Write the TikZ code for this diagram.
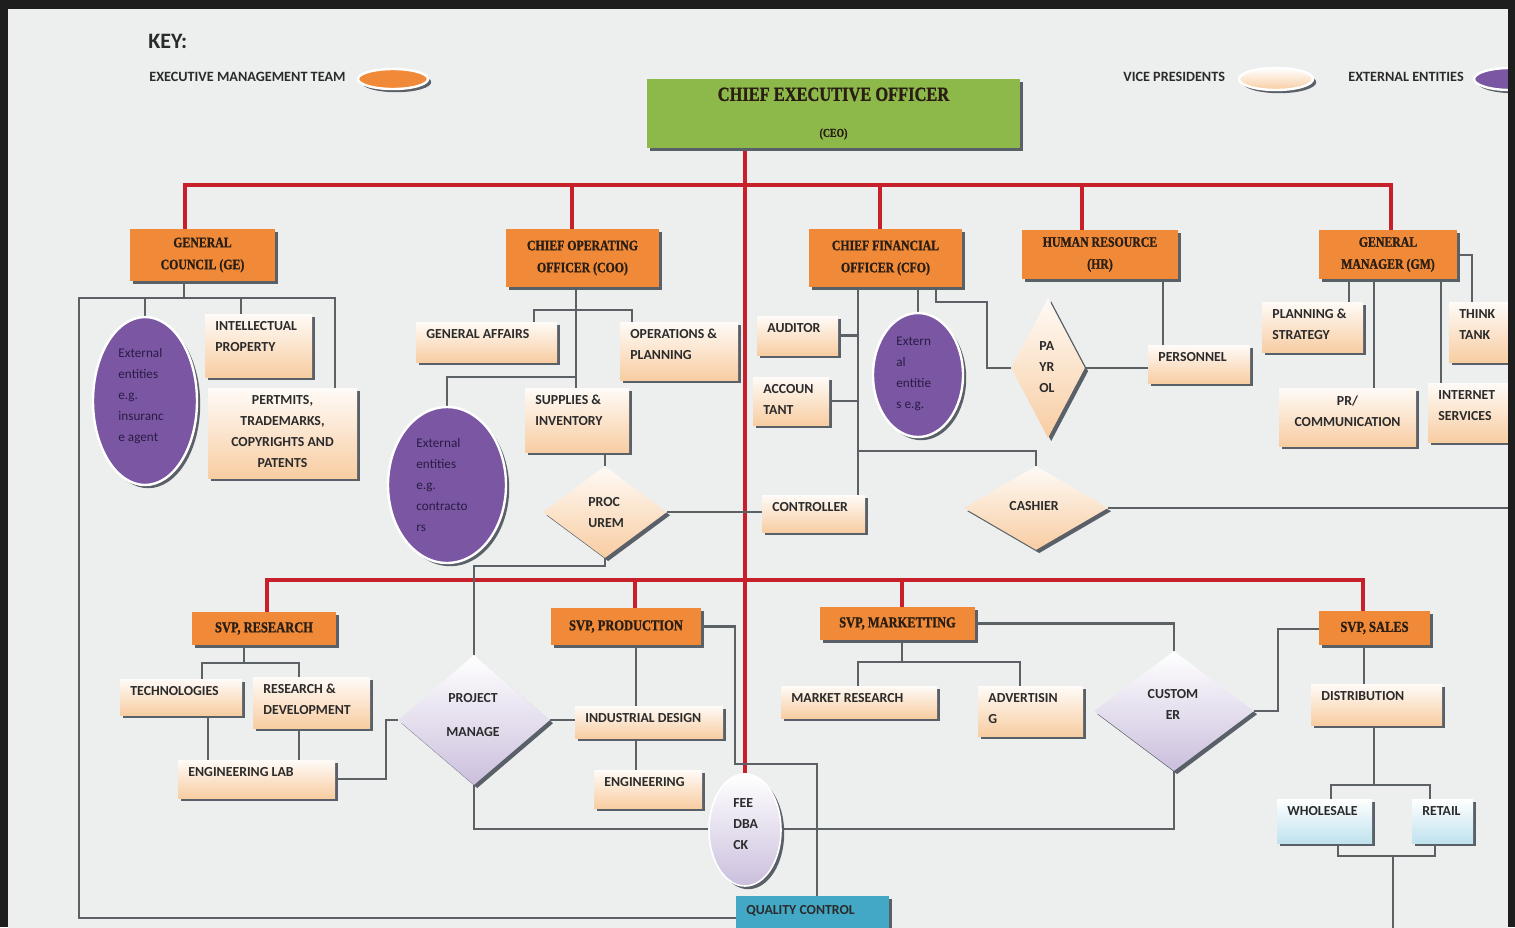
\documentclass[tikz,border=0pt]{standalone}
\usepackage{fontspec}
\setmainfont{Carlito}
\newfontfamily\hdf{Liberation Serif}[UprightFont={* Bold}, FakeStretch=0.82, FakeBold=1.2]
\usetikzlibrary{shapes.geometric,shadows,calc}
\definecolor{panelc}{HTML}{EDEFEF}
\definecolor{framec}{HTML}{1E1E1E}
\definecolor{orangec}{HTML}{F08A38}
\definecolor{greenc}{HTML}{8DB84A}
\definecolor{redc}{HTML}{C8202A}
\definecolor{linec}{HTML}{5C6166}
\definecolor{shc}{HTML}{5A6068}
\definecolor{peachc}{HTML}{F8CDA2}
\definecolor{lavc}{HTML}{CBBFDD}
\definecolor{purplec}{HTML}{7A56A3}
\definecolor{bluec}{HTML}{BFE2EE}
\definecolor{qcc}{HTML}{43A8C6}
\definecolor{txtd}{HTML}{2B2B2B}
\definecolor{hdtxt}{HTML}{2A1E14}
\definecolor{ptxtc}{HTML}{2A1C45}
\pgfdeclarelayer{panel}
\pgfdeclarelayer{wires}
\pgfsetlayers{panel,wires,main}
\newcommand\bx[7]{\node[#2, minimum width={(#5-#3)*0.5pt}, minimum height={(#6-#4)*0.5pt}] (#1) at ({(#3+#5)/2},{(#4+#6)/2}) {#7};}
\newcommand\lbl[7]{\bx{#1}{#2}{#3}{#4}{#5}{#6}{}\node[lbt, anchor=north west, align=left] (#1t) at ({#3+10},{#4+7}) {#7};}
\newcommand\lbc[7]{\bx{#1}{#2}{#3}{#4}{#5}{#6}{}\node[lbt, anchor=north, align=center] (#1t) at ({(#3+#5)/2},{#4+7}) {#7};}
\newcommand\shp[6]{\node[#2, minimum width={#5*0.5pt}, minimum height={#6*0.5pt}] (#1) at (#3,#4) {};}
\tikzset{
 ln/.style={draw=linec, line width=1.2pt},
 redl/.style={draw=redc, line width=1.8pt},
 shad/.style={drop shadow={shadow xshift=1.6pt,shadow yshift=-1.6pt,fill=shc,opacity=1}},
 ob/.style={rectangle, fill=orangec, inner sep=0pt, text=hdtxt, align=center, shad,
   font=\hdf\fontsize{7.2}{11}\selectfont},
 ob2/.style={ob, font=\hdf\fontsize{7.6}{9}\selectfont},
 lb/.style={rectangle, inner sep=0pt, top color=white!92!peachc, bottom color=peachc, shad},
 bb/.style={rectangle, inner sep=0pt, top color=white, bottom color=bluec, shad},
 lbt/.style={inner sep=0pt, text=txtd, font=\bfseries\fontsize{6.9}{10.5}\selectfont},
 pel/.style={ellipse, inner sep=0pt, fill=purplec, draw=white, line width=1.2pt, shad},
 ptxt/.style={inner sep=0pt, text=ptxtc, align=left, font=\fontsize{6.6}{10.5}\selectfont},
 pdm/.style={diamond, inner sep=0pt, top color=white!90!peachc, bottom color=peachc, shad},
 ldm/.style={diamond, inner sep=0pt, top color=white, bottom color=lavc, shad},
 keyt/.style={inner sep=0pt, text=txtd, font=\bfseries\fontsize{7.1}{8}\selectfont},
}
\begin{document}
\begin{tikzpicture}[x=0.5pt,y=-0.5pt]
\useasboundingbox (0,0) rectangle (1515,927);
\begin{pgfonlayer}{panel}
 \fill[framec] (0,0) rectangle (1515,927);
 \fill[panelc] (8,9) rectangle (1508,940);
\end{pgfonlayer}

% ---------- key ----------
\node[inner sep=0pt, text=txtd, font=\bfseries\fontsize{11}{12}\selectfont, anchor=west] (key) at (148,41) {KEY:};
\node[keyt, anchor=west] (kemt) at (149,77) {EXECUTIVE MANAGEMENT TEAM};
\shp{kemtE}{pel, fill=orangec}{393}{79}{70}{20}
\node[keyt, anchor=west] (kvp) at (1123,77) {VICE PRESIDENTS};
\shp{kvpE}{pel, fill=none, top color=white, bottom color=peachc}{1276}{79}{74}{22}
\node[keyt, anchor=west] (kext) at (1348,77) {EXTERNAL ENTITIES};
\shp{kextE}{pel}{1510}{79}{72}{22}

% ---------- executives ----------
\bx{ceo}{ob, fill=greenc, font=\hdf\fontsize{10}{12}\selectfont}{647}{79}{1020}{148}{CHIEF EXECUTIVE OFFICER\\[6pt]{\fontsize{6}{7}\selectfont (CEO)}}
\bx{gc}{ob}{130}{229}{275}{281}{GENERAL\\COUNCIL (GE)}
\bx{coo}{ob}{506}{229}{659}{287}{CHIEF OPERATING\\OFFICER (COO)}
\bx{cfo}{ob}{809}{229}{962}{287}{CHIEF FINANCIAL\\OFFICER (CFO)}
\bx{hr}{ob}{1022}{230}{1178}{279}{HUMAN RESOURCE\\(HR)}
\bx{gm}{ob}{1319}{230}{1457}{279}{GENERAL\\MANAGER (GM)}

\bx{svpr}{ob2}{192}{612}{336}{645}{SVP, RESEARCH}
\bx{svpp}{ob2}{551}{608}{701}{645}{SVP, PRODUCTION}
\bx{svpm}{ob2}{820}{607}{975}{640}{SVP, MARKETTING}
\bx{svps}{ob2}{1319}{611}{1430}{645}{SVP, SALES}

% ---------- light boxes ----------
\lbl{ip}{lb}{205}{314}{312}{377}{INTELLECTUAL\\PROPERTY}
\lbc{pat}{lb}{208}{388}{357}{478}{PERTMITS,\\TRADEMARKS,\\COPYRIGHTS AND\\PATENTS}
\lbl{ga}{lb}{416}{322}{557}{362}{GENERAL AFFAIRS}
\lbl{op}{lb}{620}{322}{738}{380}{OPERATIONS \&\\PLANNING}
\lbl{sup}{lb}{525}{388}{629}{452}{SUPPLIES \&\\INVENTORY}
\lbl{aud}{lb}{757}{316}{838}{355}{AUDITOR}
\lbl{acc}{lb}{753}{377}{829}{425}{ACCOUN\\TANT}
\lbl{ctrl}{lb}{762}{495}{865}{532}{CONTROLLER}
\lbl{pers}{lb}{1148}{345}{1250}{383}{PERSONNEL}
\lbl{ps}{lb}{1262}{302}{1363}{352}{PLANNING \&\\STRATEGY}
\lbc{pr}{lb}{1279}{388}{1416}{446}{PR/\\COMMUNICATION}
\lbl{tt}{lb}{1449}{302}{1525}{362}{THINK\\TANK}
\lbl{inet}{lb}{1428}{383}{1525}{442}{INTERNET\\SERVICES}
\lbl{tech}{lb}{120}{679}{242}{715}{TECHNOLOGIES}
\lbl{rd}{lb}{253}{677}{370}{728}{RESEARCH \&\\DEVELOPMENT}
\lbl{el}{lb}{178}{760}{335}{798}{ENGINEERING LAB}
\lbl{id}{lb}{575}{706}{723}{738}{INDUSTRIAL DESIGN}
\lbl{eng}{lb}{594}{770}{702}{808}{ENGINEERING}
\lbl{mr}{lb}{781}{686}{937}{718}{MARKET RESEARCH}
\lbl{adv}{lb}{978}{686}{1083}{736}{ADVERTISIN\\G}
\lbl{dist}{lb}{1311}{684}{1442}{725}{DISTRIBUTION}
\lbl{ws}{bb}{1277}{799}{1372}{843}{WHOLESALE}
\lbl{rt}{bb}{1412}{799}{1473}{843}{RETAIL}
\bx{qc}{rectangle, inner sep=0pt, fill=qcc, shad}{736}{896}{889}{940}{}
\node[lbt, anchor=north west] (qct) at (746,905) {QUALITY CONTROL};

% ---------- external entities ----------
\shp{ext1}{pel}{145}{401}{104}{168}
\node[ptxt, anchor=west] (ext1t) at (118,396) {External\\entities\\e.g.\\insuranc\\e agent};
\shp{ext2}{pel}{447}{485}{118}{156}
\node[ptxt, anchor=west] (ext2t) at (416,485) {External\\entities\\e.g.\\contracto\\rs};
\shp{ext3}{pel}{918}{375}{90}{124}
\node[ptxt, anchor=west] (ext3t) at (896,374) {Extern\\al\\entitie\\s e.g.};

% ---------- diamonds and feedback ----------
\shp{proc}{pdm}{605}{512}{124}{92}
\node[lbt, anchor=west, align=left] (proct) at (588,513) {PROC\\UREM};
\shp{pay}{pdm}{1048}{368}{74}{140}
\node[lbt, anchor=west, align=left] (payt) at (1039,367) {PA\\YR\\OL};
\shp{cash}{pdm}{1036}{508}{144}{84}
\node[lbt] (casht) at (1034,506) {CASHIER};
\shp{pm}{ldm}{474}{720}{152}{130}
\node[lbt, align=center] (pmt) at (473,715) {PROJECT\\[6.5pt]MANAGE};
\shp{cust}{ldm}{1174}{711}{160}{120}
\node[lbt, align=center] (custt) at (1173,704) {CUSTOM\\ER};
\shp{fb}{ellipse, inner sep=0pt, top color=white, bottom color=lavc, draw=white, line width=0.8pt, shad}{745}{830}{72}{112}
\node[lbt, anchor=west, align=left] (fbt) at (733,824) {FEE\\DBA\\CK};

% ---------- connectors ----------
\begin{pgfonlayer}{wires}
 % red hierarchy
 \coordinate (r1L) at (185,185); \coordinate (r1R) at (1391,185);
 \coordinate (r1coo) at (572,185); \coordinate (r1cfo) at (880,185); \coordinate (r1hr) at (1082,185);
 \draw[redl] (gc.north -| r1L) -- (r1L) -- (r1R) -- (gm.north -| r1R);
 \draw[redl] (coo.north -| r1coo) -- (r1coo);
 \draw[redl] (cfo.north -| r1cfo) -- (r1cfo);
 \draw[redl] (hr.north -| r1hr) -- (r1hr);
 \draw[redl] (ceo.south -| fb.north) -- (fb.north);
 \coordinate (r2L) at (267,580); \coordinate (r2R) at (1363,580);
 \coordinate (r2p) at (635,580); \coordinate (r2m) at (902,580);
 \draw[redl] (svpr.north -| r2L) -- (r2L) -- (r2R) -- (svps.north -| r2R);
 \draw[redl] (svpp.north -| r2p) -- (r2p);
 \draw[redl] (svpm.north -| r2m) -- (r2m);

 % general council
 \coordinate (gcL) at (79,298); \coordinate (gcR) at (335,298);
 \coordinate (gcj) at (184,298); \coordinate (ipj) at (241,298); \coordinate (qcL) at (79,918);
 \draw[ln] (gc.south -| gcj) -- (gcj);
 \draw[ln] (pat.north -| gcR) -- (gcR) -- (gcL) -- (qcL) -- (qcL -| qc.west);
 \draw[ln] (ext1.north) -- (ext1.north |- gcL);
 \draw[ln] (ipj) -- (ip.north -| ipj);

 % chief operating officer
 \coordinate (cooA) at (576,310); \coordinate (cooB) at (576,377);
 \coordinate (gaj) at (534,310); \coordinate (opj) at (632,310);
 \draw[ln] (coo.south -| cooA) -- (sup.north -| cooA);
 \draw[ln] (ga.north -| gaj) -- (gaj) -- (opj) -- (op.north -| opj);
 \draw[ln] (cooB) -- (ext2.north |- cooB) -- (ext2.north);
 \draw[ln] (sup.south -| proc.north) -- (proc.north);
 \draw[ln] (proc.east) -- (proc.east -| ctrl.west);
 \coordinate (pmj) at (474,566);
 \draw[ln] (proc.south) |- (pmj) -- (pm.north);

 % chief financial officer
 \coordinate (cfoV) at (858,300); \coordinate (cashj) at (858,451);
 \coordinate (payA) at (936,302); \coordinate (payB) at (987,302);
 \draw[ln] (cfo.south -| cfoV) -- (ctrl.north -| cfoV);
 \draw[ln] (aud.east) -- (aud.east -| cfoV);
 \draw[ln] (acc.east) -- (acc.east -| cfoV);
 \draw[ln] (cashj) -| (cash.north);
 \draw[ln] (cfo.south -| ext3.north) -- (ext3.north);
 \draw[ln] (cfo.south -| payA) -- (payA) -- (payB) |- (pay.west);
 \draw[ln] (pay.east) -- (pay.east -| pers.west);
 \coordinate (cashR) at (1520,508);
 \draw[ln] (cash.east) -- (cashR);
 \coordinate (hrj) at (1163,300);
 \draw[ln] (hr.south -| hrj) -- (pers.north -| hrj);

 % general manager
 \coordinate (psj) at (1349,300); \coordinate (prj) at (1374,300);
 \coordinate (inj) at (1441,300); \coordinate (ttj) at (1472,255);
 \draw[ln] (gm.south -| psj) -- (ps.north -| psj);
 \draw[ln] (gm.south -| prj) -- (pr.north -| prj);
 \draw[ln] (gm.south -| inj) -- (inet.north -| inj);
 \draw[ln] (gm.east |- ttj) -- (ttj) -- (tt.north -| ttj);

 % SVP research
 \coordinate (rj) at (244,663); \coordinate (tj) at (202,663); \coordinate (rdj) at (299,663);
 \coordinate (elt) at (208,740); \coordinate (elj) at (386,740);
 \draw[ln] (svpr.south -| rj) -- (rj);
 \draw[ln] (tech.north -| tj) -- (tj) -- (rdj) -- (rd.north -| rdj);
 \draw[ln] (tech.south -| elt) -- (el.north -| elt);
 \draw[ln] (rd.south -| rdj) -- (el.north -| rdj);
 \draw[ln] (el.east) -- (el.east -| elj) |- (pm.west);

 % project manage / customer loop
 \coordinate (fbL) at (474,829);
 \draw[ln] (pm.south) |- (cust.south |- fbL) -- (cust.south);
 \draw[ln] (pm.east) -- (pm.east -| id.west);

 % SVP production
 \coordinate (pj) at (636,700);
 \coordinate (qcA) at (735,629); \coordinate (qcB) at (735,764); \coordinate (qcC) at (817,764);
 \draw[ln] (svpp.south -| pj) -- (id.north -| pj);
 \draw[ln] (id.south -| pj) -- (eng.north -| pj);
 \draw[ln] (svpp.east) -- (svpp.east -| qcA) -- (qcB) -- (qcC) -- (qc.north -| qcC);

 % SVP marketing
 \coordinate (mj) at (902,662); \coordinate (mrj) at (858,662); \coordinate (advj) at (1020,662);
 \draw[ln] (svpm.south -| mj) -- (mj);
 \draw[ln] (mr.north -| mrj) -- (mrj) -- (advj) -- (adv.north -| advj);
 \draw[ln] (svpm.east) -| (cust.north);
 \coordinate (sj) at (1278,629);
 \draw[ln] (cust.east) -- (cust.east -| sj) -- (sj) -- (sj -| svps.west);

 % SVP sales
 \coordinate (dsj) at (1364,660);
 \coordinate (dj) at (1374,785); \coordinate (wj) at (1331,785); \coordinate (rtj) at (1430,785);
 \coordinate (wbj) at (1338,856); \coordinate (rbj) at (1435,856); \coordinate (bj) at (1393,856); \coordinate (bot) at (1393,935);
 \draw[ln] (svps.south -| dsj) -- (dist.north -| dsj);
 \draw[ln] (dist.south -| dj) -- (dj);
 \draw[ln] (ws.north -| wj) -- (wj) -- (rtj) -- (rt.north -| rtj);
 \draw[ln] (ws.south -| wbj) -- (wbj) -- (rbj) -- (rt.south -| rbj);
 \draw[ln] (bj) -- (bot);
\end{pgfonlayer}

% ---------- dark frame on top ----------
\fill[framec] (0,0) rectangle (8,927);
\fill[framec] (0,0) rectangle (1515,9);
\fill[framec] (1508,0) rectangle (1515,927);
\end{tikzpicture}
\end{document}
